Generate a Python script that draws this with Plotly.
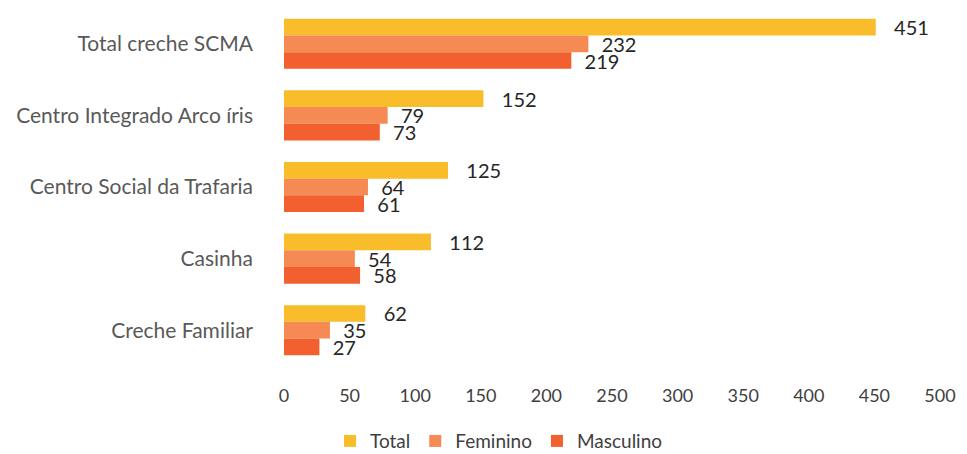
import plotly.graph_objects as go

categories = ["Total creche SCMA", "Centro Integrado Arco íris", "Centro Social da Trafaria",
              "Casinha", "Creche Familiar"]
total = [451, 152, 125, 112, 62]
feminino = [232, 79, 64, 54, 35]
masculino = [219, 73, 61, 58, 27]
x_ticks = [0, 50, 100, 150, 200, 250, 300, 350, 400, 450, 500]

series = [
    ("Total", total, "#F9BD2C", "\u00a0\u00a0\u00a0"),
    ("Feminino", feminino, "#F58A55", "\u00a0\u00a0"),
    ("Masculino", masculino, "#F1602E", "\u00a0\u00a0"),
]

fig = go.Figure()
for name, vals, color, pad in series:
    fig.add_trace(go.Bar(
        y=categories, x=vals, name=name, orientation="h",
        marker=dict(color=color, line=dict(width=0)),
        text=[pad + str(v) for v in vals], textposition="outside",
        textfont=dict(family="Lato, sans-serif", size=20, color="#262626"),
        constraintext="none", cliponaxis=False,
    ))

fig.update_layout(
    width=959, height=446,
    margin=dict(l=276, r=27, t=0, b=88, autoexpand=False),
    paper_bgcolor="white", plot_bgcolor="white",
    barmode="group", bargap=0.3, bargroupgap=0,
    font=dict(family="Lato, sans-serif", color="#404040"),
    showlegend=True,
    legend=dict(orientation="h", xref="container", yref="container",
                x=0.512, xanchor="center", y=0.029, yanchor="middle",
                font=dict(size=19, color="#404040"),
                itemwidth=30, traceorder="normal"),
    xaxis=dict(range=[0, 500], tickvals=x_ticks, showgrid=False, zeroline=False,
               showline=False, ticks="", tickfont=dict(size=18, color="#404040"),
               ticklabelstandoff=17, automargin=False),
    yaxis=dict(autorange="reversed", showgrid=False, zeroline=False, showline=False,
               ticks="", tickfont=dict(size=21, color="#595959"),
               ticklabelstandoff=30, automargin=False),
)

fig.write_html("out.html")
